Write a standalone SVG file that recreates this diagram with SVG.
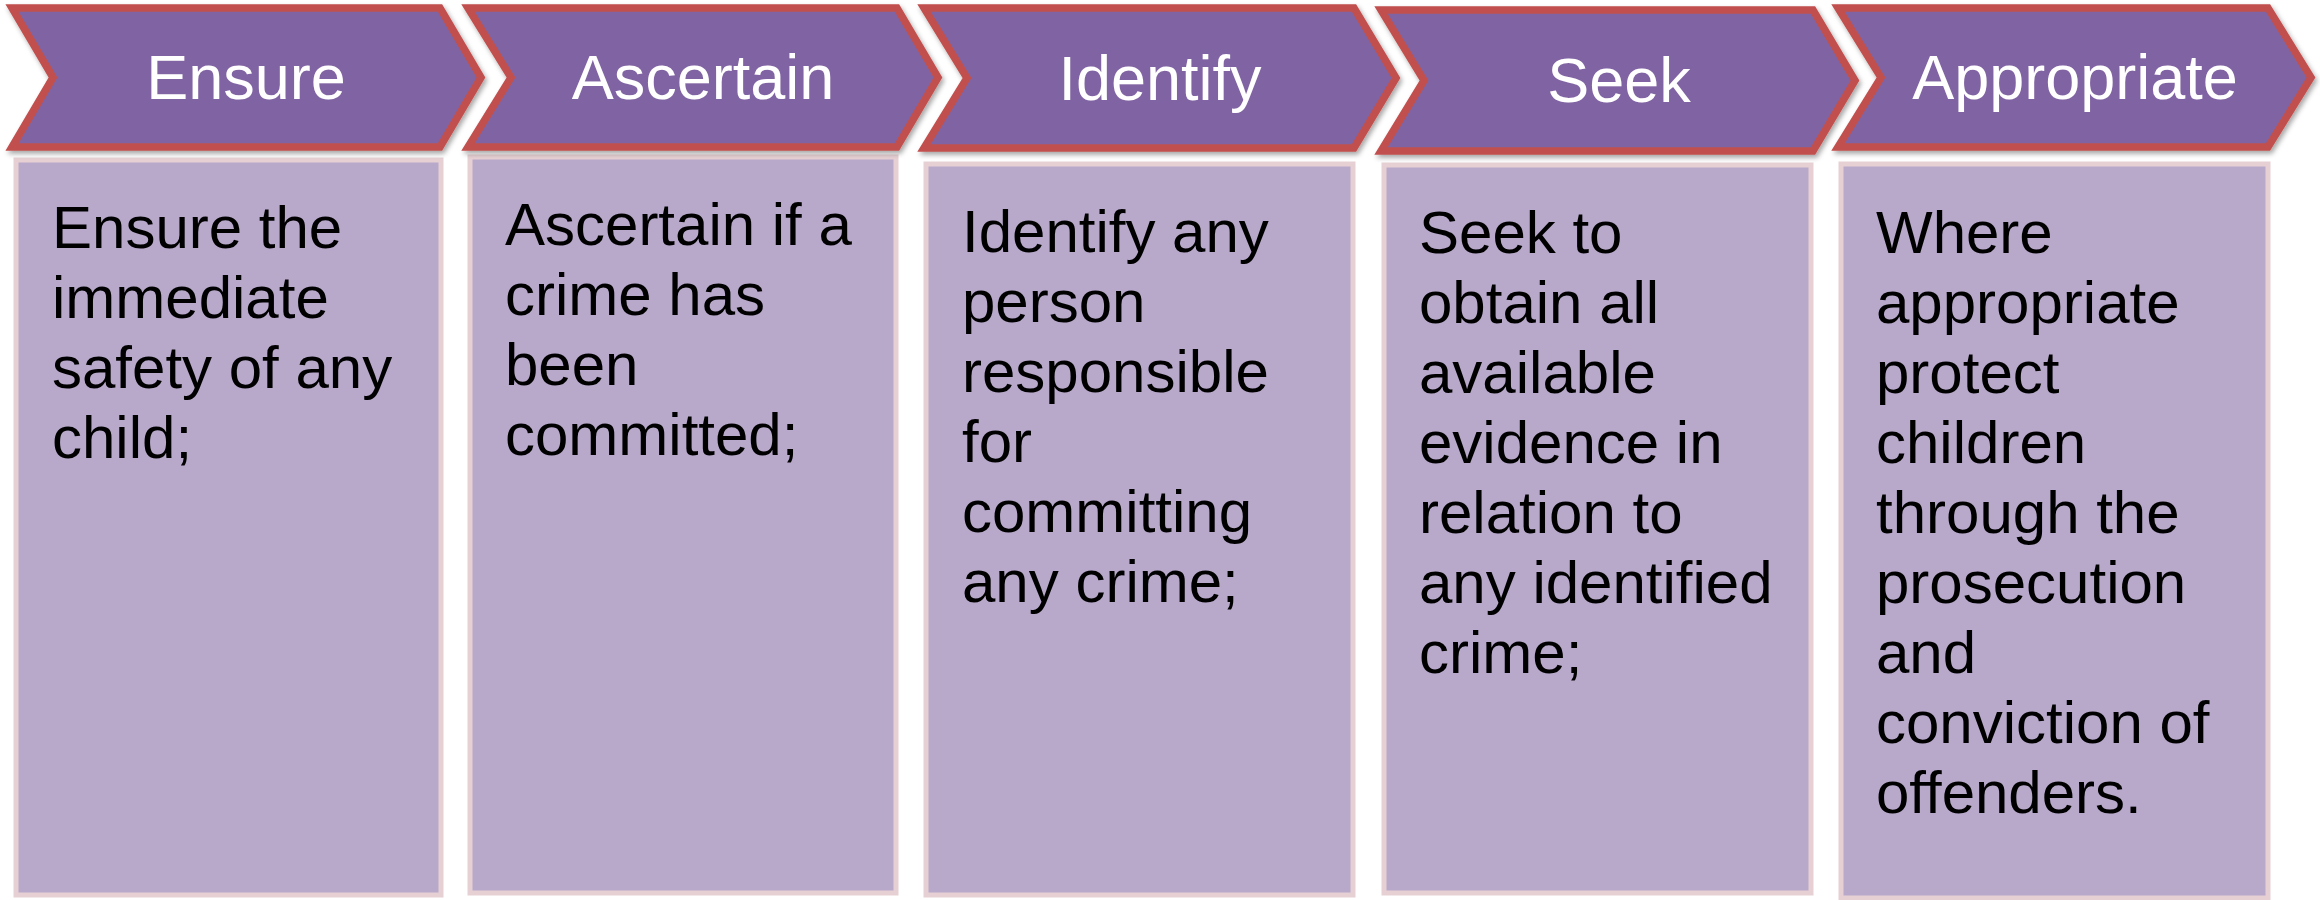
<svg xmlns="http://www.w3.org/2000/svg" width="2320" height="900" viewBox="0 0 2320 900">
<defs>
<filter id="sh" x="-5%" y="-10%" width="110%" height="130%">
<feDropShadow dx="2" dy="3" stdDeviation="2.5" flood-color="#000" flood-opacity="0.35"/>
</filter>
<style>
.chev{fill:#8064A2;stroke:#C0504D;stroke-width:7.5;stroke-linejoin:miter;filter:url(#sh)}
.box{fill:#B8A9CB;stroke:#E6D0D3;stroke-width:5}
.title{font-family:"Liberation Sans",Arial,sans-serif;font-size:63px;fill:#FFFFFF;text-anchor:middle}
.body{font-family:"Liberation Sans",Arial,sans-serif;font-size:60px;fill:#000000}
</style>
</defs>
<rect width="2320" height="900" fill="#FFFFFF"/>
<g id="connectors"></g>
<g id="node-ensure">
<rect class="box" x="16" y="160" width="425" height="735"/>
<path class="chev" d="M12,8 L440,8 L481,77.5 L440,147 L12,147 L53,77.5 Z"/>
<text class="title" x="246" y="99">Ensure</text>
<text class="body" x="52" y="248"><tspan x="52">Ensure the</tspan><tspan x="52" dy="70">immediate</tspan><tspan x="52" dy="70">safety of any</tspan><tspan x="52" dy="70">child;</tspan></text>
</g>
<g id="node-ascertain">
<rect class="box" x="470" y="157" width="426" height="736"/>
<path class="chev" d="M468,8 L897,8 L938,77.5 L897,147 L468,147 L511,77.5 Z"/>
<text class="title" x="703" y="99">Ascertain</text>
<text class="body" x="505" y="245"><tspan x="505">Ascertain if a</tspan><tspan x="505" dy="70">crime has</tspan><tspan x="505" dy="70">been</tspan><tspan x="505" dy="70">committed;</tspan></text>
</g>
<g id="node-identify">
<rect class="box" x="926" y="164" width="427" height="731"/>
<path class="chev" d="M924,8 L1354,8 L1396,78 L1354,148 L924,148 L967,78 Z"/>
<text class="title" x="1160" y="100">Identify</text>
<text class="body" x="962" y="252"><tspan x="962">Identify any</tspan><tspan x="962" dy="70">person</tspan><tspan x="962" dy="70">responsible</tspan><tspan x="962" dy="70">for</tspan><tspan x="962" dy="70">committing</tspan><tspan x="962" dy="70">any crime;</tspan></text>
</g>
<g id="node-seek">
<rect class="box" x="1384" y="165" width="427" height="728"/>
<path class="chev" d="M1381,10 L1813,10 L1855,80.5 L1813,151 L1381,151 L1424,80.5 Z"/>
<text class="title" x="1619" y="102">Seek</text>
<text class="body" x="1419" y="253"><tspan x="1419">Seek to</tspan><tspan x="1419" dy="70">obtain all</tspan><tspan x="1419" dy="70">available</tspan><tspan x="1419" dy="70">evidence in</tspan><tspan x="1419" dy="70">relation to</tspan><tspan x="1419" dy="70">any identified</tspan><tspan x="1419" dy="70">crime;</tspan></text>
</g>
<g id="node-appropriate">
<rect class="box" x="1841" y="164" width="427" height="734"/>
<path class="chev" d="M1838,8 L2268,8 L2311,77.5 L2268,147 L1838,147 L1881,77.5 Z"/>
<text class="title" x="2075" y="99">Appropriate</text>
<text class="body" x="1876" y="253"><tspan x="1876">Where</tspan><tspan x="1876" dy="70">appropriate</tspan><tspan x="1876" dy="70">protect</tspan><tspan x="1876" dy="70">children</tspan><tspan x="1876" dy="70">through the</tspan><tspan x="1876" dy="70">prosecution</tspan><tspan x="1876" dy="70">and</tspan><tspan x="1876" dy="70">conviction of</tspan><tspan x="1876" dy="70">offenders.</tspan></text>
</g>
</svg>
